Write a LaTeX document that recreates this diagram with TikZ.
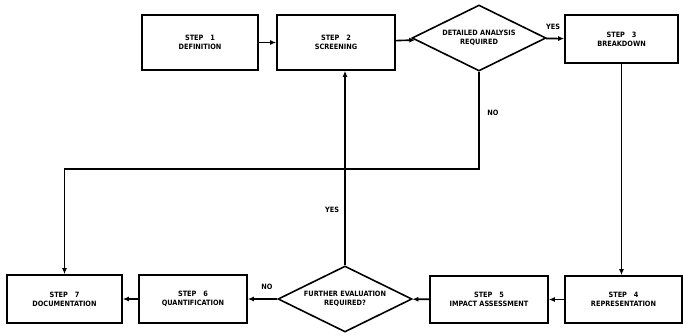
\documentclass[tikz,border=0pt]{standalone}
\usepackage{fontspec}
\newfontfamily\lbl{DejaVu Sans Condensed}
\usetikzlibrary{shapes.geometric,arrows.meta}
\begin{document}
\begin{tikzpicture}[x=1pt,y=-1pt,
  every node/.style={font=\lbl\bfseries\fontsize{7.3}{9}\selectfont},
  stepbox/.style={draw,line width=1.6pt,rectangle,inner sep=0pt,align=center},
  decision/.style={draw,line width=1.6pt,diamond,aspect=2,inner sep=0pt,
    minimum width=134pt,minimum height=66pt,align=center},
  flow/.style={line width=1.6pt,-{Latex[length=6pt,width=5pt]}},
  tag/.style={inner sep=0pt}]
\useasboundingbox (0,0) rectangle (683,335);

% top row
\node[stepbox,minimum width=116pt,minimum height=55pt] (b1) at (200,42.5) {STEP\ \ \ 1\\DEFINITION};
\node[stepbox,minimum width=118pt,minimum height=55pt] (b2) at (336,42.5) {STEP\ \ \ 2\\SCREENING};
\node[decision] (d1) at (479,38) {DETAILED ANALYSIS\\REQUIRED};
\node[stepbox,minimum width=113pt,minimum height=48pt] (b3) at (621.5,39) {STEP\ \ \ 3\\BREAKDOWN};

% bottom row
\node[stepbox,minimum width=117pt,minimum height=47pt] (b4) at (623.5,299.5) {STEP\ \ \ 4\\REPRESENTATION};
\node[stepbox,minimum width=118pt,minimum height=47pt] (b5) at (489,299.5) {STEP\ \ \ 5\\IMPACT ASSESSMENT};
\node[decision] (d2) at (345,299) {FURTHER EVALUATION\\REQUIRED?};
\node[stepbox,minimum width=108pt,minimum height=48pt] (b6) at (193,299) {STEP\ \ \ 6\\QUANTIFICATION};
\node[stepbox,minimum width=115pt,minimum height=48pt] (b7) at (64.5,299) {STEP\ \ \ 7\\DOCUMENTATION};

% bend of the NO branch from the first decision
\coordinate (k1) at (479,169);

% connectors
\draw[flow] (b1) -- (b2);
\draw[flow] (b2) -- (d1);
\draw[flow] (d1) -- (b3);
\draw[flow] (b3.south) -- (b3.south |- b4.north);
\draw[flow] (b4) -- (b5);
\draw[flow] (b5) -- (d2);
\draw[flow] (d2) -- (b6);
\draw[flow] (b6) -- (b7);
\draw[flow] (d2.north) -- (d2.north |- b2.south);
\draw[flow] (d1.south) -- (k1) -- (k1 -| b7.north) -- (b7.north);

% branch labels
\node[tag] (y1) at (553,27) {YES};
\node[tag] (n1) at (493,113) {NO};
\node[tag] (y2) at (332,210) {YES};
\node[tag] (n2) at (267,287) {NO};
\end{tikzpicture}
\end{document}
